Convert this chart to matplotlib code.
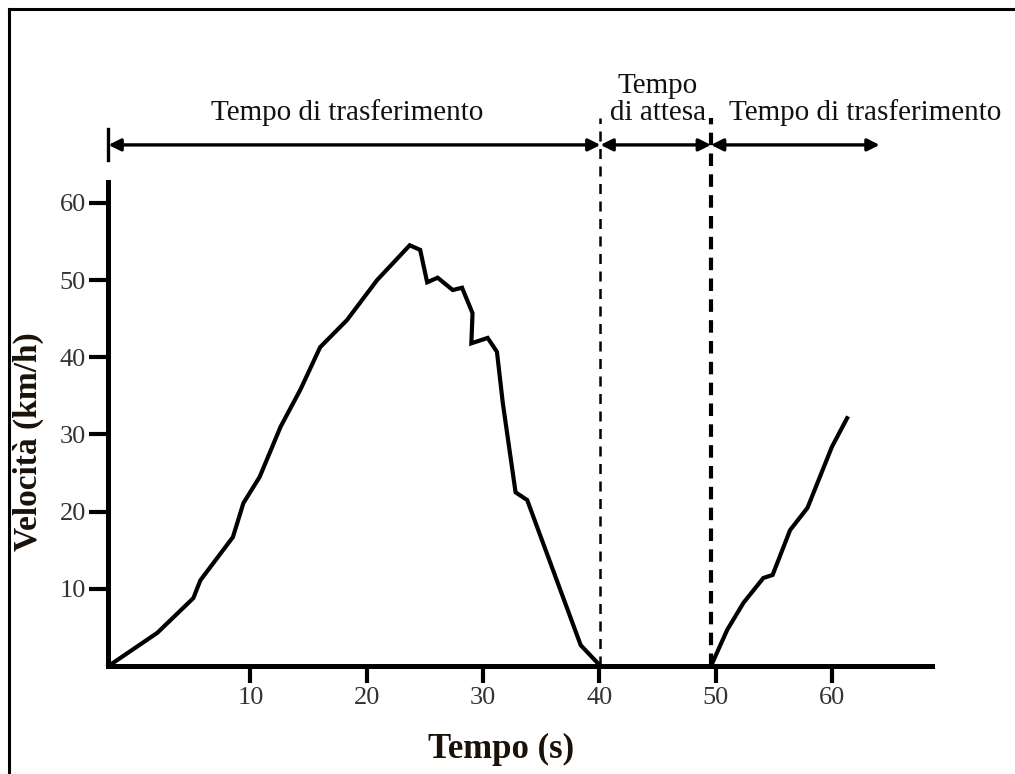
import matplotlib
matplotlib.use("Agg")
import matplotlib.pyplot as plt
from matplotlib.lines import Line2D

# Curve (time in s, speed in km/h).
t_first = [-2.2, 2.0, 5.1, 5.7, 6.8, 8.5, 9.4, 10.8, 12.6, 14.3, 16.0, 18.3, 20.9, 23.7,
           24.6, 25.2, 26.1, 27.4, 28.2, 29.1, 29.0, 30.4, 31.2, 31.7, 32.8, 33.8, 38.4, 40.1]
v_first = [0.0, 4.3, 8.8, 11.1, 13.3, 16.7, 21.1, 24.5, 31.0, 35.8, 41.3, 44.8, 50.0, 54.5,
           53.9, 49.7, 50.3, 48.7, 49.0, 45.7, 41.8, 42.5, 40.7, 34.1, 22.5, 21.5, 2.7, 0.0]
t_second = [49.6, 51.0, 52.4, 54.1, 54.9, 56.4, 57.9, 60.0, 61.3]
v_second = [0.0, 4.7, 8.2, 11.4, 11.8, 17.6, 20.5, 28.4, 32.1]

ticks = [10, 20, 30, 40, 50, 60]
t_stop = 40.1
t_go = 49.6
phase_labels = ["Tempo di trasferimento", "Tempo\ndi attesa", "Tempo di trasferimento"]

plt.rcParams["font.family"] = ["Liberation Serif", "DejaVu Serif"]

fig = plt.figure(figsize=(10.15, 7.74), dpi=100)
ax = fig.add_axes([0.1064, 0.1395, 0.8118, 0.6254])

ax.plot(t_first, v_first, color="black", lw=3.0, solid_joinstyle="miter", clip_on=False, zorder=3)
ax.plot(t_second, v_second, color="black", lw=3.0, solid_joinstyle="miter", clip_on=False, zorder=3)

ax.set_xlim(-2.24, 68.6)
ax.set_ylim(0, 62.7)
ax.set_xticks(ticks)
ax.set_yticks(ticks)
ax.set_xticklabels([str(v) for v in ticks])
ax.set_yticklabels([str(v) for v in ticks])

for side in ["top", "right"]:
    ax.spines[side].set_visible(False)
for side in ["left", "bottom"]:
    ax.spines[side].set_linewidth(3.6)
ax.tick_params(axis="both", direction="out", width=3.0, length=12, labelsize=19,
               labelcolor="#333333", pad=3)
ax.tick_params(axis="y", length=14, pad=2)

# phase boundaries
y_top = 71.0
ax.plot([t_stop, t_stop], [0, y_top], color="black", lw=1.8, ls=(0, (4, 3)), clip_on=False)
ax.plot([t_go, t_go], [0, y_top], color="black", lw=3.0, ls=(0, (3, 2)), clip_on=False)

# phase arrows
y_arrow = 67.5
x_left = -2.2
x_right = 64.1
arrow_kw = dict(arrowstyle="<|-|>", color="black", lw=2.4, mutation_scale=18,
                shrinkA=0, shrinkB=0)
for a, b in [(x_left, t_stop), (t_stop, t_go), (t_go, x_right)]:
    ax.annotate("", xy=(b, y_arrow), xytext=(a, y_arrow), arrowprops=arrow_kw,
                annotation_clip=False)
ax.plot([x_left, x_left], [y_arrow - 2.0, y_arrow + 2.0], color="black", lw=2.4, clip_on=False)

ax.text((x_left + t_stop) / 2 - 0.6, 70.0, phase_labels[0], ha="center", va="bottom",
        fontsize=21, color="#111111")
ax.text((t_stop + t_go) / 2 + 0.2, 70.0, phase_labels[1], ha="center", va="bottom",
        fontsize=21, color="#111111", linespacing=1.05)
ax.text(62.9, 70.0, phase_labels[2], ha="center", va="bottom",
        fontsize=21, color="#111111")

fig.text(0.494, 0.032, "Tempo (s)", ha="center", va="center", fontsize=25,
         fontweight="bold", color="#1a1208")
fig.text(0.028, 0.43, "Velocità (km/h)", ha="center", va="center", rotation=90,
         fontsize=24, fontweight="bold", color="#1a1208")

# frame around the picture
fig.add_artist(Line2D([9 / 1015, 9 / 1015], [0, 1 - 9 / 774], color="black", lw=2.2,
                      transform=fig.transFigure))
fig.add_artist(Line2D([9 / 1015, 1], [1 - 9 / 774, 1 - 9 / 774], color="black", lw=2.2,
                      transform=fig.transFigure))

fig.savefig("out.png", dpi=100)
